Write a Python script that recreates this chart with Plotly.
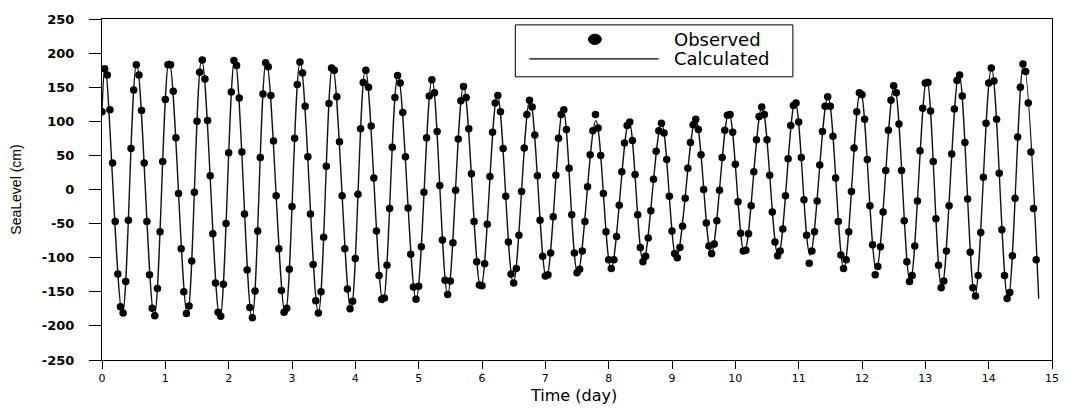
import plotly.graph_objects as go

# ---------------- data ----------------
# Calculated tide: turning points (time in days, sea level in cm)
calc_t = [0.000, 0.050, 0.322, 0.547, 0.825, 1.060, 1.348, 1.574, 1.861, 2.097,
          2.369, 2.595, 2.893, 3.129, 3.416, 3.641, 3.930, 4.159, 4.437, 4.673,
          4.960, 5.211, 5.458, 5.709, 5.981, 6.243, 6.494, 6.757, 7.017, 7.280,
          7.511, 7.798, 8.038, 8.321, 8.547, 8.835, 9.070, 9.373, 9.620, 9.898,
          10.143, 10.421, 10.677, 10.944, 11.180, 11.462, 11.713, 11.976, 12.227, 12.510,
          12.761, 13.023, 13.259, 13.531, 13.782, 14.044, 14.305, 14.551, 14.790]
calc_v = [114, 181, -183, 184, -186, 189, -184, 191, -189, 192,
          -189, 189, -183, 187, -181, 182, -177, 176, -166, 168,
          -161, 161, -154, 151, -145, 139, -137, 132, -130, 118,
          -123, 101, -116, 100, -106, 97, -101, 103, -94, 113,
          -93, 121, -98, 129, -96, 136, -116, 145, -117, 153,
          -136, 162, -145, 170, -157, 178, -162, 185, -160]

# Observed sea level, hourly samples starting at t = 0 (cm)
obs_v = [
    114, 177, 168, 117, 39, -47, -124, -172, -181, -135, -45, 60, 146, 183, 168, 116,
    39, -47, -125, -174, -185, -145, -62, 41, 132, 183, 183, 144, 76, -6, -87, -150,
    -182, -171, -105, -4, 100, 172, 190, 162, 101, 20, -65, -137, -180, -186, -139, -50,
    54, 143, 189, 182, 134, 55, -36, -118, -173, -188, -149, -61, 47, 140, 186, 180,
    138, 71, -9, -87, -148, -180, -174, -117, -25, 75, 154, 187, 171, 122, 48, -36,
    -110, -163, -181, -150, -70, 34, 126, 178, 175, 136, 70, -9, -87, -146, -175, -164,
    -101, -7, 89, 157, 175, 150, 93, 17, -61, -126, -161, -159, -111, -28, 62, 135,
    167, 156, 113, 48, -27, -95, -143, -161, -142, -84, -4, 76, 137, 161, 142, 85,
    6, -74, -133, -154, -134, -78, -1, 74, 130, 151, 135, 89, 23, -47, -106, -140,
    -141, -109, -51, 19, 84, 127, 138, 114, 60, -10, -77, -124, -137, -116, -67, -3,
    61, 110, 131, 121, 80, 20, -45, -98, -127, -125, -93, -40, 21, 75, 110, 117,
    88, 31, -37, -93, -122, -117, -90, -47, 4, 51, 86, 110, 90, 50, -6, -62,
    -103, -116, -103, -69, -23, 26, 68, 94, 99, 72, 22, -37, -85, -106, -98, -71,
    -31, 15, 56, 86, 97, 83, 44, -10, -61, -94, -100, -85, -54, -13, 31, 69,
    95, 103, 88, 51, 0, -49, -83, -94, -80, -46, -1, 47, 87, 109, 110, 84,
    37, -18, -64, -90, -89, -65, -24, 26, 73, 107, 121, 110, 73, 21, -33, -77,
    -97, -90, -58, -9, 45, 94, 123, 127, 99, 47, -15, -67, -108, -90, -62, -17,
    36, 85, 122, 136, 122, 78, 17, -47, -96, -116, -103, -62, -3, 61, 114, 142,
    139, 103, 44, -24, -81, -125, -113, -84, -33, 28, 87, 131, 152, 142, 96, 28,
    -46, -106, -135, -126, -83, -17, 57, 119, 156, 157, 115, 41, -43, -111, -144, -134,
    -90, -24, 52, 118, 160, 168, 137, 69, -14, -92, -144, -156, -126, -63, 18, 97,
    156, 178, 159, 103, 24, -59, -126, -160, -151, -97, -13, 77, 150, 184, 173, 127,
    55, -28, -103,
]
obs_step_hours = 1.0
obs_t = [i * obs_step_hours / 24.0 for i in range(len(obs_v))]

x_ticks = list(range(0, 16))
y_ticks = list(range(-250, 251, 50))

legend_labels = ["Observed", "Calculated"]
x_title = "Time (day)"
y_title = "SeaLevel (cm)"

# ---------------- figure ----------------
fig = go.Figure()

fig.add_trace(go.Scatter(
    x=calc_t, y=calc_v, mode="lines", name=legend_labels[1],
    line=dict(color="#111111", width=1.4, shape="spline", smoothing=1.0),
    showlegend=False, hoverinfo="skip"))

fig.add_trace(go.Scatter(
    x=obs_t, y=obs_v, mode="markers", name=legend_labels[0],
    marker=dict(symbol="circle", size=7.5, color="#000000", line=dict(width=0)),
    showlegend=False))

tick_font = dict(family="DejaVu Sans", size=11, color="#000000")

fig.update_layout(
    width=1071, height=412,
    margin=dict(l=102, r=13, t=12, b=52),
    paper_bgcolor="white", plot_bgcolor="white",
    showlegend=False,
    xaxis=dict(
        range=[0, 15], tickmode="array", tickvals=x_ticks,
        ticktext=[str(v) for v in x_ticks],
        ticks="outside", ticklen=8, tickwidth=1, tickcolor="#000000",
        showline=True, linecolor="#000000", linewidth=1, mirror=True,
        showgrid=False, zeroline=False,
        tickfont=tick_font,
        ticklabelstandoff=0,
    ),
    yaxis=dict(
        range=[-250, 250], tickmode="array", tickvals=y_ticks,
        ticktext=[str(v) for v in y_ticks],
        ticks="outside", ticklen=12, tickwidth=1, tickcolor="#000000",
        showline=True, linecolor="#000000", linewidth=1, mirror=True,
        showgrid=False, zeroline=False,
        tickfont=dict(family="DejaVu Sans", size=13, color="#000000", weight="bold"),
        ticklabelstandoff=12,
        title=dict(text=y_title, standoff=16,
                   font=dict(family="Liberation Sans", size=14, color="#000000")),
    ),
)

# ---------------- legend box (drawn to match the reference) ----------------
def px_x(p):
    return (p - 102.5) / 955.0

def px_y(p):
    return (360.0 - p) / 348.0

shapes = [
    dict(type="rect", xref="paper", yref="paper",
         x0=px_x(518), x1=px_x(797), y0=px_y(71), y1=px_y(18),
         line=dict(color="#000000", width=1), fillcolor="white", layer="above"),
    dict(type="circle", xref="paper", yref="paper",
         x0=px_x(591.5), x1=px_x(604.5), y0=px_y(38), y1=px_y(27.5),
         line=dict(color="#000000", width=1), fillcolor="#000000", layer="above"),
    dict(type="line", xref="paper", yref="paper",
         x0=px_x(532), x1=px_x(662), y0=px_y(52.7), y1=px_y(52.7),
         line=dict(color="#000000", width=1.2), layer="above"),
]
annotations = [
    dict(xref="paper", yref="paper", x=px_x(676), y=px_y(32.7), text=legend_labels[0],
         showarrow=False, xanchor="left", yanchor="middle",
         font=dict(family="DejaVu Sans", size=18, color="#000000")),
    dict(xref="paper", yref="paper", x=px_x(676), y=px_y(52.7), text=legend_labels[1],
         showarrow=False, xanchor="left", yanchor="middle",
         font=dict(family="DejaVu Sans", size=18, color="#000000")),
    # x-axis title placed just under the tick labels, as in the reference
    dict(xref="paper", yref="paper", x=px_x(576), y=px_y(396), text=x_title,
         showarrow=False, xanchor="center", yanchor="middle",
         font=dict(family="DejaVu Sans", size=16, color="#000000")),
]
fig.update_layout(shapes=shapes, annotations=annotations)

fig.write_html("out.html")
